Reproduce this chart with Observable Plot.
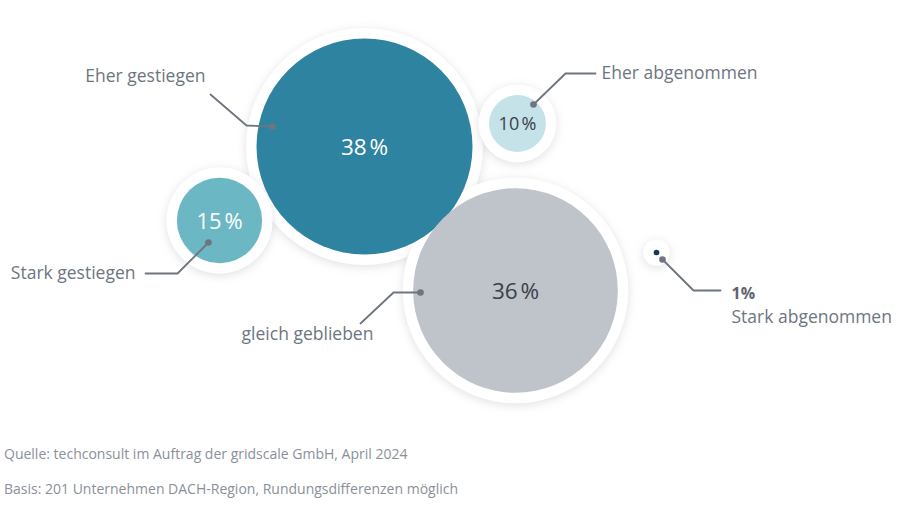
<!DOCTYPE html>
<html>
<head>
<meta charset="utf-8">
<script src="https://cdn.jsdelivr.net/npm/d3@7"></script>
<script src="https://cdn.jsdelivr.net/npm/@observablehq/plot@0.6"></script>
<style>
  html, body { margin: 0; padding: 0; background: #fff; }
  body { width: 900px; height: 525px; overflow: hidden; font-family: "Open Sans", sans-serif; }
  .halo circle { filter: drop-shadow(0px 2px 5px rgba(60,70,90,0.16)); }
  .foot { position: absolute; left: 4px; font-size: 14px; color: #8a9099; font-family: "Open Sans", sans-serif; }
</style>
</head>
<body>
<div id="chart"></div>
<div class="foot" style="top:444px">Quelle: techconsult im Auftrag der gridscale GmbH, April 2024</div>
<div class="foot" style="top:479px">Basis: 201 Unternehmen DACH-Region, Rundungsdifferenzen möglich</div>
<script>
// ---- data ----
const categories = ["Eher gestiegen", "Eher abgenommen", "Stark gestiegen", "gleich geblieben", "Stark abgenommen"];
const values = [38, 10, 15, 36, 1];

// ---- layout (design, not data) ----
const centerX = [364, 517, 219, 515, 656];
const centerY = [146, 123, 220, 290, 252];
const fills = ["#2d83a0", "#c4e2e8", "#6bb7c4", "#bfc3ca", "#17385a"];
const valueColors = ["#ffffff", "#3b4049", "#ffffff", "#3b4049", "none"];
const valueSizes = [22.5, 18, 22, 22.5, 0];
const leaderX = [[272, 246, 210], [533, 565, 595], [208, 177, 145], [420, 393, 360], [662, 693, 720]];
const leaderY = [[126, 125, 94], [104, 73, 73], [242, 273, 273], [292, 292, 323], [259, 290, 290]];
const labelX = [205, 601, 135, 307, 731];
const labelY = [76, 73, 273, 334, 317];
const labelAnchor = ["end", "start", "end", "middle", "start"];

const rMax = 108;
const haloPx = 10.5;

const bubbles = categories.map((c, i) => ({
  cat: c, value: values[i], x: centerX[i], y: centerY[i], fill: fills[i],
  vcolor: valueColors[i], vsize: valueSizes[i],
  label: values[i] + "\u202F%"
}));
const leaders = categories.flatMap((c, i) => leaderX[i].map((x, j) => ({cat: c, x, y: leaderY[i][j], j})));
const leaderEnds = categories.map((c, i) => ({cat: c, x: leaderX[i][0], y: leaderY[i][0]}));
const labels = categories.map((c, i) => ({cat: c, x: labelX[i], y: labelY[i], anchor: labelAnchor[i], value: values[i]}));

const textMarks = ["start", "middle", "end"].map(a =>
  Plot.text(labels.filter(d => d.anchor === a), {x: "x", y: "y", text: "cat", textAnchor: a, fill: "#6e7581", fontSize: 17.5})
);

const plot = Plot.plot({
  width: 900, height: 430,
  margin: 0,
  x: {domain: [0, 900], range: [0, 900], axis: null},
  y: {domain: [0, 430], range: [0, 430], axis: null},
  r: {type: "linear", domain: [0, 38], range: [0, rMax]},
  style: {fontFamily: "Open Sans, sans-serif", background: "transparent"},
  marks: [
    // white halos with soft shadow (radius padded by haloPx pixels, expressed in value units)
    Plot.dot(bubbles, {x: "x", y: "y", r: d => d.value + haloPx * 38 / rMax, fill: "#ffffff", stroke: "none", className: "halo"}),
    // bubbles
    Plot.dot(bubbles, {x: "x", y: "y", r: "value", fill: d => d.fill, stroke: "none"}),
    // value labels inside bubbles
    Plot.text(bubbles.filter(d => d.vsize > 0), {x: "x", y: "y", text: "label", fill: d => d.vcolor, fontSize: d => d.vsize, dy: 1}),
    // leader lines
    Plot.line(leaders, {x: "x", y: "y", z: "cat", stroke: "#6e7581", strokeWidth: 1.8, curve: "linear"}),
    Plot.dot(leaderEnds, {x: "x", y: "y", r: 3.3, fill: "#6e7581", stroke: "none"}),
    // category labels
    ...textMarks,
    // 1% label outside the tiny bubble
    Plot.text(labels.filter(d => d.value === 1), {x: "x", y: "y", dy: -24, text: d => d.value + "%", textAnchor: "start", fill: "#5d6471", fontSize: 16, fontWeight: "bold"})
  ]
});
document.getElementById("chart").appendChild(plot);
</script>
</body>
</html>
